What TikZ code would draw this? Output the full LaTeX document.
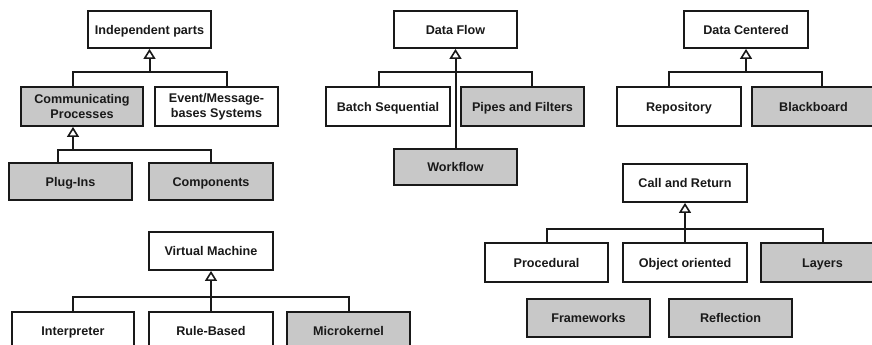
\documentclass[tikz,border=0pt]{standalone}
\usepackage{fontspec}
\setmainfont{Liberation Sans}
\usetikzlibrary{arrows.meta}
\definecolor{boxgray}{RGB}{200,200,200}
\definecolor{ink}{RGB}{25,25,25}
\begin{document}
\begin{tikzpicture}[x=1pt,y=-1pt,
  box/.style={draw=ink, line width=1.8pt, fill=white, minimum width=123pt, minimum height=37pt,
    inner sep=1pt, align=center, font=\fontsize{12.6}{14.5}\selectfont\bfseries, text=ink,
    text height=9.2pt, text depth=0pt},
  gbox/.style={box, fill=boxgray},
  two/.style={text height=, text depth=},
  conn/.style={draw=ink, line width=2pt},
  gen/.style={conn, -{Triangle[open, length=10pt, width=12pt, line width=1.6pt]}}]
\useasboundingbox (0,0) rectangle (872,345);
\clip (0,0) rectangle (872,345);
% Independent parts tree
\node[box] (ip) at (149.5,29.5) {Independent parts};
\node[gbox, two, minimum height=39pt, minimum width=122pt] (cp) at (82,106.5) {Communicating\\Processes};
\node[box, two, minimum height=39pt] (ev) at (216.5,106.5) {Event/Message-\\bases Systems};
\node[gbox] (pl) at (70.5,181.5) {Plug-Ins};
\node[gbox, minimum width=124pt] (co) at (211,181.5) {Components};
\coordinate (j1) at (ip.south |- 0,72);
\draw[conn] ([xshift=-9pt]cp.north) |- (j1) -| ([xshift=10.5pt]ev.north);
\draw[gen] (j1) -- (ip.south);
\coordinate (j2) at ([xshift=-9pt]cp.south |- 0,150);
\draw[conn] ([xshift=-12.5pt]pl.north) |- (j2) -| (co.north);
\draw[gen] (j2) -- ([xshift=-9pt]cp.south);
% Data Flow tree
\node[box] (df) at (455.5,29.5) {Data Flow};
\node[box, minimum height=39pt, minimum width=124pt] (bs) at (388,106.5) {Batch Sequential};
\node[gbox, minimum height=39pt] (pf) at (522.5,106.5) {Pipes and Filters};
\node[gbox, minimum height=36pt] (wf) at (455.5,167) {Workflow};
\coordinate (j3) at (df.south |- 0,72);
\draw[conn] ([xshift=-9pt]bs.north) |- (j3) -| ([xshift=9.5pt]pf.north);
\draw[gen] (wf.north) -- (df.south);
% Data Centered tree
\node[box, minimum width=124pt] (dc) at (746,29.5) {Data Centered};
\node[box, minimum height=39pt, minimum width=124pt] (re) at (679,106.5) {Repository};
\node[gbox, minimum height=39pt] (bb) at (813.5,106.5) {Blackboard};
\coordinate (j4) at (dc.south |- 0,72);
\draw[conn] ([xshift=-10pt]re.north) |- (j4) -| ([xshift=8.5pt]bb.north);
\draw[gen] (j4) -- (dc.south);
% Call and Return tree
\node[box, minimum height=38pt, minimum width=124pt] (cr) at (685,183) {Call and Return};
\node[box, minimum height=39pt] (pr) at (546.5,262.5) {Procedural};
\node[box, minimum height=39pt, minimum width=124pt] (oo) at (685,262.5) {Object oriented};
\node[gbox, minimum height=39pt] (la) at (822.5,262.5) {Layers};
\node[gbox, minimum height=38pt] (fw) at (588.5,318) {Frameworks};
\node[gbox, minimum height=38pt] (rf) at (730.5,318) {Reflection};
\coordinate (j5) at (cr.south |- 0,229);
\draw[conn] (pr.north) |- (j5) -| (la.north);
\draw[gen] (oo.north) -- (cr.south);
% Virtual Machine tree
\node[box, minimum height=38pt, minimum width=124pt] (vm) at (211,251) {Virtual Machine};
\node[box, minimum width=122pt] (in) at (73,330.5) {Interpreter};
\node[box, minimum width=124pt] (rb) at (211,330.5) {Rule-Based};
\node[gbox] (mk) at (348.5,330.5) {Microkernel};
\coordinate (j6) at (vm.south |- 0,297);
\draw[conn] (in.north) |- (j6) -| (mk.north);
\draw[gen] (rb.north) -- (vm.south);
\end{tikzpicture}
\end{document}
